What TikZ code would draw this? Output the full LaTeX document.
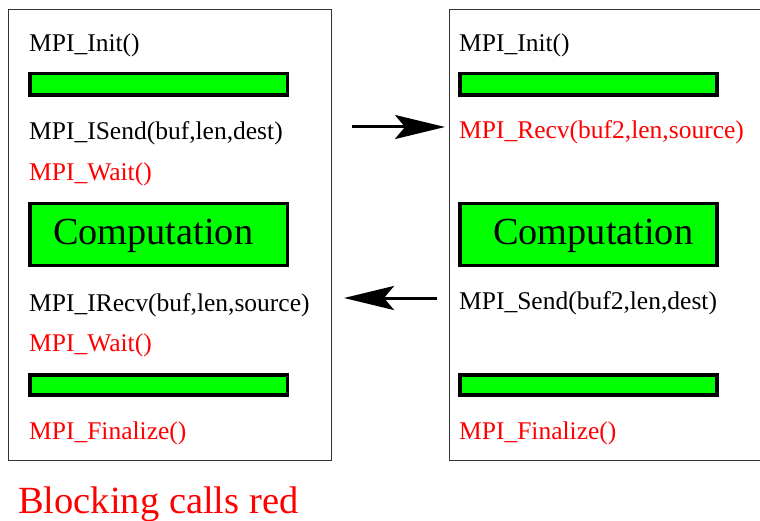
\documentclass[tikz,border=0pt]{standalone}
\usepackage{fontspec}
\setmainfont{Liberation Serif}
\usetikzlibrary{arrows.meta}
\definecolor{bargreen}{RGB}{0,255,0}
\definecolor{callred}{RGB}{255,0,0}
\begin{document}
\begin{tikzpicture}[x=1pt,y=-1pt,
  frame/.style={draw=black!80,line width=1pt},
  bar/.style={draw=black,line width=3.3pt,fill=bargreen},
  call/.style={anchor=base west,inner sep=0pt,font=\fontsize{25.5}{28}\selectfont},
  blocking/.style={call,text=callred},
  comp/.style={anchor=base west,inner sep=0pt,font=\fontsize{38.3}{42}\selectfont},
  msg/.style={line width=3pt,-{Stealth[length=50pt,width=24pt,inset=10pt]}}]
\useasboundingbox (0,0) rectangle (760,521);

% process frames (the right one runs past the page edge)
\draw[frame] (8.5,9.5) rectangle (331,460);
\draw[frame] (449,9.5) rectangle (765,460);

% left process
\node[call] (linit) at (29,52) {MPI\_Init()};
\draw[bar] (30,73.3) rectangle (287.7,95);
\node[call] (lsend) at (29,140) {MPI\_ISend(buf,len,dest)};
\node[blocking] (lwait1) at (29,181) {MPI\_Wait()};
\draw[bar] (30,203.3) rectangle (287.7,265.7);
\node[comp] (lcomp) at (53,245) {Computation};
\node[call] (lrecv) at (29,311) {MPI\_IRecv(buf,len,source)};
\node[blocking] (lwait2) at (29,351) {MPI\_Wait()};
\draw[bar] (30,375) rectangle (287.7,395);
\node[blocking] (lfin) at (29,439) {MPI\_Finalize()};

% right process
\node[call] (rinit) at (459,52) {MPI\_Init()};
\draw[bar] (460,73.3) rectangle (717,95);
\node[blocking] (rrecv) at (459,139) {MPI\_Recv(buf2,len,source)};
\draw[bar] (460,203.3) rectangle (717,265.7);
\node[comp] (rcomp) at (493,245) {Computation};
\node[call] (rsend) at (459,309) {MPI\_Send(buf2,len,dest)};
\draw[bar] (460,375) rectangle (717,395);
\node[blocking] (rfin) at (459,439) {MPI\_Finalize()};

% messages
\coordinate (sendfrom) at (352,127);
\coordinate (sendto) at (445,127);
\draw[msg] (sendfrom) -- (sendto);
\coordinate (recvfrom) at (437,298);
\coordinate (recvto) at (344,298);
\draw[msg] (recvfrom) -- (recvto);

\node[anchor=base west,inner sep=0pt,text=callred,font=\fontsize{38.5}{42}\selectfont] (legend) at (18,513) {Blocking calls red};
\end{tikzpicture}
\end{document}
